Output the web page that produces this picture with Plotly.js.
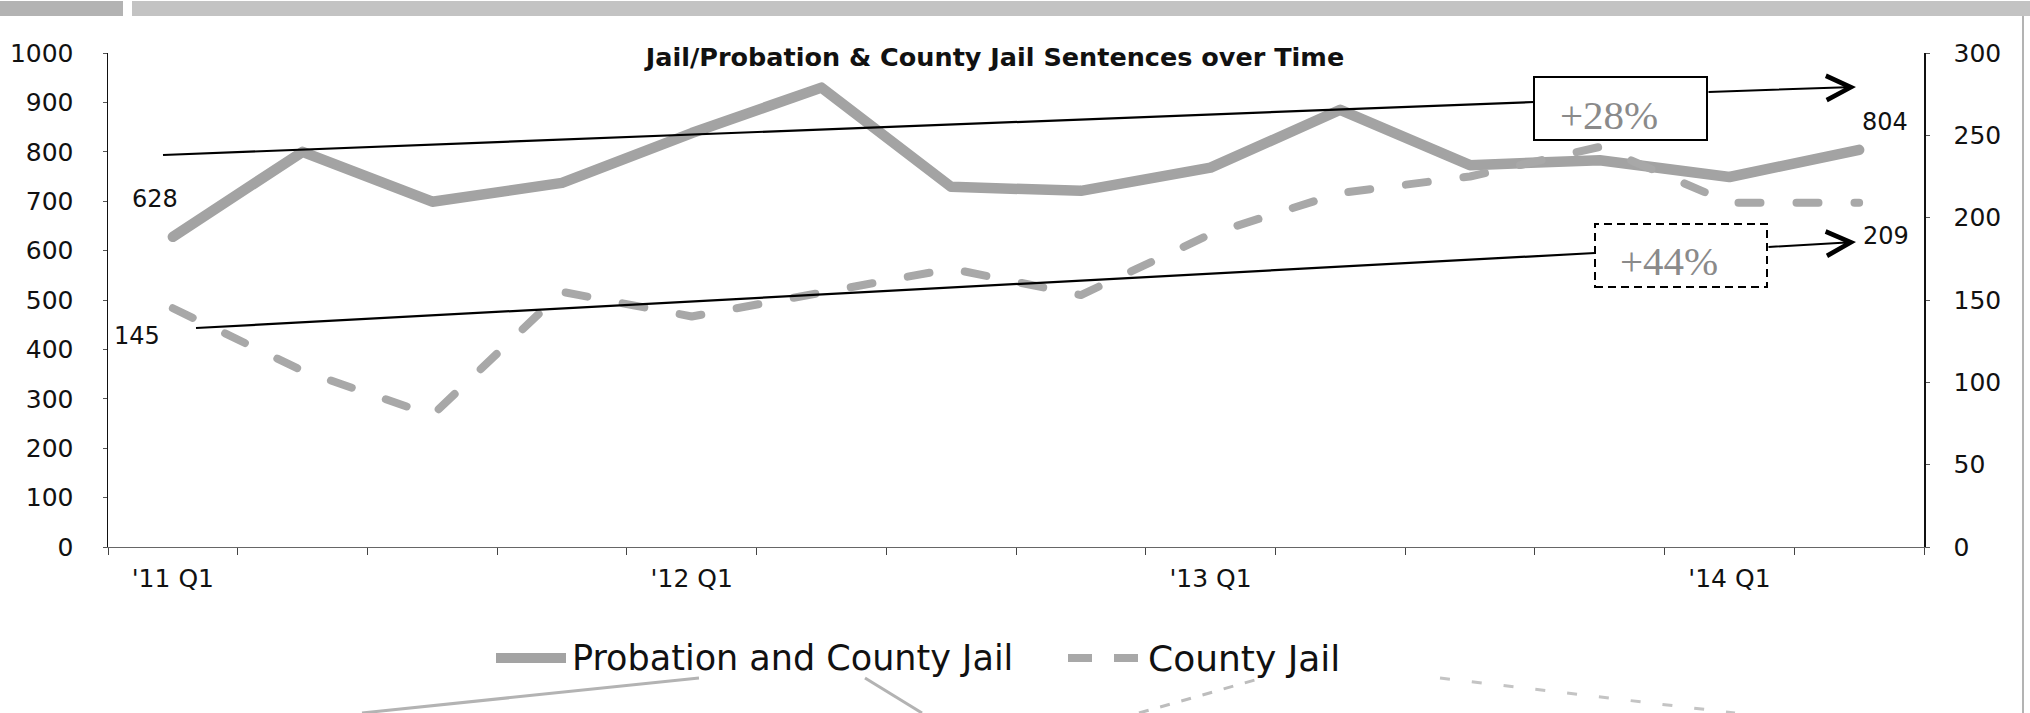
<!DOCTYPE html>
<html>
<head>
<meta charset="utf-8">
<script src="https://cdn.plot.ly/plotly-3.0.1.min.js"></script>
<style>
  html, body { margin: 0; padding: 0; background: #ffffff; }
  #chart { width: 2030px; height: 713px; }
  .scatterlayer .js-line { stroke-linecap: round; stroke-linejoin: round; }
</style>
</head>
<body>
<div id="chart"></div>
<script>
// ---- data ----
const quarters = ["'11 Q1","'11 Q2","'11 Q3","'11 Q4","'12 Q1","'12 Q2","'12 Q3","'12 Q4",
                  "'13 Q1","'13 Q2","'13 Q3","'13 Q4","'14 Q1","'14 Q2"];
const tickLabels = ["'11 Q1","","","","'12 Q1","","","","'13 Q1","","","","'14 Q1",""];
const probationCountyJail = [628, 800, 699, 737, 838, 930, 729, 721, 768, 885, 773, 783, 749, 804];
const countyJail = [145, 107, 80, 155, 140, 155, 169, 153, 190, 215, 225, 243, 209, 209];
const leftTicks = [0,100,200,300,400,500,600,700,800,900,1000];
const rightTicks = [0,50,100,150,200,250,300];
const seriesNames = ["Probation and County Jail", "County Jail"];
const changeLabels = ["+28%", "+44%"];

// ---- geometry helpers (pixel -> paper) ----
const L = 108, R = 1924, T = 53, B = 547;
const px = x => (x - L) / (R - L);
const py = y => (B - y) / (B - T);

const sans = "DejaVu Sans, Liberation Sans, sans-serif";
const grayLine = "#a3a3a3";

const traces = [
  {
    x: quarters, y: probationCountyJail, type: "scatter", mode: "lines",
    name: seriesNames[0], line: {color: grayLine, width: 10.5}, showlegend: false,
    hoverinfo: "x+y"
  },
  {
    x: quarters, y: countyJail, type: "scatter", mode: "lines", yaxis: "y2",
    name: seriesNames[1], line: {color: "#a8a8a8", width: 8, dash: "22px,36px"}, showlegend: false,
    hoverinfo: "x+y"
  }
];

const shapes = [
  // scan strip at top
  {type: "rect", xref: "paper", yref: "paper", x0: px(0), x1: px(123), y0: py(16), y1: py(1),
   fillcolor: "#b3b3b3", line: {width: 0}, layer: "below"},
  {type: "rect", xref: "paper", yref: "paper", x0: px(132), x1: px(2030), y0: py(16), y1: py(1),
   fillcolor: "#c3c3c3", line: {width: 0}, layer: "below"},
  // right frame border
  {type: "line", xref: "paper", yref: "paper", x0: px(2023), x1: px(2023), y0: py(16), y1: py(713),
   line: {color: "#9a9a9a", width: 1.5}},
  // upper trend line
  {type: "line", xref: "paper", yref: "paper", x0: px(163), y0: py(155), x1: px(1534), y1: py(102),
   line: {color: "#000", width: 2.2}},
  {type: "rect", xref: "paper", yref: "paper", x0: px(1534), x1: px(1707), y0: py(140), y1: py(77),
   fillcolor: "#ffffff", line: {color: "#000", width: 2}},
  // lower trend line
  {type: "line", xref: "paper", yref: "paper", x0: px(196), y0: py(328), x1: px(1595), y1: py(253),
   line: {color: "#000", width: 2.2}},
  {type: "rect", xref: "paper", yref: "paper", x0: px(1595), x1: px(1767), y0: py(287), y1: py(224),
   fillcolor: "#ffffff", line: {color: "#000", width: 2, dash: "8px,5px"}},
  // legend samples
  {type: "line", xref: "paper", yref: "paper", x0: px(496), x1: px(566), y0: py(658), y1: py(658),
   line: {color: grayLine, width: 10}},
  {type: "line", xref: "paper", yref: "paper", x0: px(1068), x1: px(1142), y0: py(658), y1: py(658),
   line: {color: "#a8a8a8", width: 8, dash: "24px,22px"}},
  // faint fragments of the next chart at the bottom of the scan
  {type: "line", xref: "paper", yref: "paper", x0: px(362), y0: py(713), x1: px(699), y1: py(678),
   line: {color: "#b3b3b3", width: 3}},
  {type: "line", xref: "paper", yref: "paper", x0: px(865), y0: py(678), x1: px(922), y1: py(713),
   line: {color: "#b3b3b3", width: 3}},
  {type: "line", xref: "paper", yref: "paper", x0: px(1139), y0: py(713), x1: px(1262), y1: py(678),
   line: {color: "#bdbdbd", width: 3, dash: "10px,12px"}},
  {type: "line", xref: "paper", yref: "paper", x0: px(1440), y0: py(678), x1: px(1735), y1: py(713),
   line: {color: "#c4c4c4", width: 3, dash: "10px,22px"}}
];

const lastI = quarters.length - 1;
const labelFont = {family: sans, size: 24, color: "#111"};
const annotations = [
  // data labels
  {x: quarters[0], y: probationCountyJail[0], xref: "x", yref: "y", text: String(probationCountyJail[0]),
   showarrow: false, xshift: -18, yshift: 38, font: labelFont},
  {x: quarters[0], y: countyJail[0], xref: "x", yref: "y2", text: String(countyJail[0]),
   showarrow: false, xshift: -36, yshift: -28, font: labelFont},
  {x: quarters[lastI], y: probationCountyJail[lastI], xref: "x", yref: "y", text: String(probationCountyJail[lastI]),
   showarrow: false, xshift: 26, yshift: 28, font: labelFont},
  {x: quarters[lastI], y: countyJail[lastI], xref: "x", yref: "y2", text: String(countyJail[lastI]),
   showarrow: false, xshift: 27, yshift: -33, font: labelFont},
  // arrows
  {xref: "paper", yref: "paper", x: px(1856), y: py(87), axref: "pixel", ayref: "pixel",
   ax: 1707 - 1856, ay: 92 - 87, showarrow: true, arrowhead: 5, arrowsize: 2.4, arrowwidth: 2,
   arrowcolor: "#000", text: ""},
  {xref: "paper", yref: "paper", x: px(1856), y: py(242), axref: "pixel", ayref: "pixel",
   ax: 1767 - 1856, ay: 247 - 242, showarrow: true, arrowhead: 5, arrowsize: 2.4, arrowwidth: 2,
   arrowcolor: "#000", text: ""},
  // change boxes text
  {xref: "paper", yref: "paper", x: px(1609), y: py(115), xanchor: "center", yanchor: "middle",
   text: changeLabels[0], showarrow: false,
   font: {family: "Liberation Serif, serif", size: 41, color: "#8a8a8a"}},
  {xref: "paper", yref: "paper", x: px(1669), y: py(261), xanchor: "center", yanchor: "middle",
   text: changeLabels[1], showarrow: false,
   font: {family: "Liberation Serif, serif", size: 41, color: "#8a8a8a"}},
  // legend text
  {xref: "paper", yref: "paper", x: px(570), y: py(658), xanchor: "left", yanchor: "middle",
   text: seriesNames[0], showarrow: false, font: {family: sans, size: 35, color: "#111"}},
  {xref: "paper", yref: "paper", x: px(1146), y: py(658), xanchor: "left", yanchor: "middle",
   text: seriesNames[1], showarrow: false, font: {family: sans, size: 36, color: "#111"}}
];

const axisFont = {family: sans, size: 25, color: "#111"};

const layout = {
  width: 2030, height: 713,
  margin: {l: L, r: 2030 - R, t: T, b: 713 - B, pad: 0},
  paper_bgcolor: "#ffffff", plot_bgcolor: "#ffffff",
  showlegend: false,
  title: {
    text: "<b>Jail/Probation & County Jail Sentences over Time</b>",
    font: {family: sans, size: 25.5, color: "#111"},
    x: 995 / 2030, xref: "container", xanchor: "center",
    y: 1 - 57 / 713, yref: "container", yanchor: "middle"
  },
  xaxis: {
    type: "category", range: [-0.5, quarters.length - 0.5],
    tickmode: "array", tickvals: quarters, ticktext: tickLabels,
    tickson: "boundaries", ticks: "outside", ticklen: 7, tickwidth: 1, tickcolor: "#444",
    showline: true, linecolor: "#666", linewidth: 1,
    showgrid: false, zeroline: false, tickfont: axisFont, ticklabelstandoff: 9,
    fixedrange: true
  },
  yaxis: {
    range: [0, 1000], tickmode: "array", tickvals: leftTicks,
    ticks: "outside", ticklen: 4, tickcolor: "#555", tickwidth: 1,
    showline: true, linecolor: "#111", linewidth: 1.5,
    showgrid: false, zeroline: false, tickfont: axisFont, ticklabelstandoff: 24,
    fixedrange: true
  },
  yaxis2: {
    range: [0, 300], tickmode: "array", tickvals: rightTicks, overlaying: "y", side: "right",
    ticks: "outside", ticklen: 4, tickcolor: "#555", tickwidth: 1,
    showline: true, linecolor: "#111", linewidth: 1.5,
    showgrid: false, zeroline: false, tickfont: axisFont, ticklabelstandoff: 19,
    fixedrange: true
  },
  shapes: shapes,
  annotations: annotations
};

Plotly.newPlot("chart", traces, layout, {displayModeBar: false, staticPlot: true});
</script>
</body>
</html>
